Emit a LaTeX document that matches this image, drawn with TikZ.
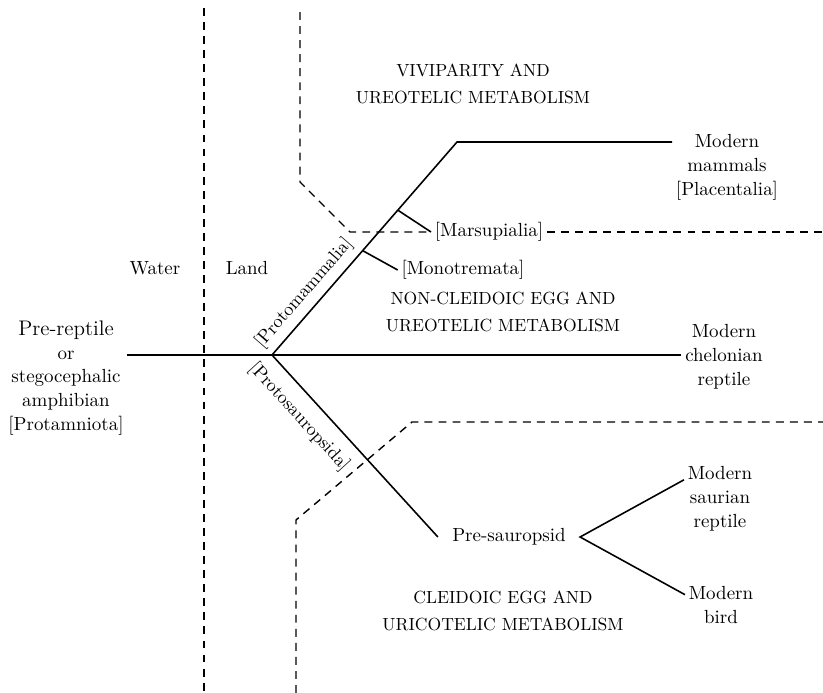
\documentclass[tikz,border=0pt]{standalone}
\usepackage{amsmath}
\usetikzlibrary{positioning}
\begin{document}
\begin{tikzpicture}[x=0.02cm, y=-0.02cm,
    font=\fontsize{10.8pt}{13.6pt}\selectfont,
    branch/.style={line width=0.9pt},
    zone/.style={line width=0.8pt, dash pattern=on 4.5pt off 3.5pt},
    taxon/.style={align=center, inner sep=2pt},
    region/.style={align=center, font=\fontsize{10pt}{15.8pt}\selectfont},
    cladelabel/.style={sloped, inner sep=0pt, font=\fontsize{10.4pt}{12pt}\selectfont}]
    \useasboundingbox (0,0) rectangle (823,693);

    % 1. 分支点与末端类群
    \coordinate (root) at (272,355);
    \coordinate (bend) at (457,142);
    \coordinate (eastedge) at (823,0);
    \node[taxon] (ancestor) at (66,378)
        {{\fontsize{12pt}{14pt}\selectfont Pre-reptile}\\or\\stegocephalic\\amphibian\\{[Protamniota]}};
    \node[taxon] (mammals) at (727,167) {Modern\\mammals\\{[Placentalia]}};
    \node[taxon] (chelonian) at (724,357) {Modern\\chelonian\\reptile};
    \node[taxon, inner xsep=8pt] (presaur) at (509,537) {Pre-sauropsid};
    \node[taxon] (saurian) at (720,499) {Modern\\saurian\\reptile};
    \node[taxon] (bird) at (721,605) {Modern\\bird};
    \node[taxon] (marsup) at (489,232) {[Marsupialia]};
    \node[taxon] (monotr) at (463,270) {[Monotremata]};

    % 2. 分支线
    \draw[branch] (ancestor.east |- root) -- (root) -- (root -| chelonian.west);
    \draw[branch] (root) -- (bend) -- (bend -| mammals.west);
    \draw[branch] (root) -- (presaur.west);
    \draw[branch] (saurian.152) -- (presaur.east) -- (bird.164);
    \path (root) -- (bend) coordinate[pos=0.68] (marsbase) coordinate[pos=0.49] (monobase);
    \draw[branch] (marsbase) -- (marsup.west);
    \draw[branch] (monobase) -- (monotr.west);

    % 3. 类群标注 (沿分支)
    \path (root) -- (bend) node[cladelabel, pos=0.24, above=4pt] (protomam) {[Protomammalia]};
    \path (root) -- (presaur.west) node[cladelabel, pos=0.26, below=7pt] (protosaur) {[Protosauropsida]};

    % 4. 环境分界虚线
    \draw[zone] (204,8) -- (204,693);
    \draw[zone] (300,12) -- (300,182) -- (350,232) -- (marsup.west);
    \draw[zone] (marsup.east) -- (marsup.east -| eastedge);
    \draw[zone] (296,693) -- (296,520) -- (412,422) -- (823,422);

    % 5. 区域说明
    \node (water) at (155,268) {Water};
    \node (land) at (247,268) {Land};
    \node[region] (vivip) at (473,84) {VIVIPARITY AND\\UREOTELIC METABOLISM};
    \node[region] (noncleid) at (503,312) {NON-CLEIDOIC EGG AND\\UREOTELIC METABOLISM};
    \node[region] (cleid) at (503,611) {CLEIDOIC EGG AND\\URICOTELIC METABOLISM};
\end{tikzpicture}
\end{document}
